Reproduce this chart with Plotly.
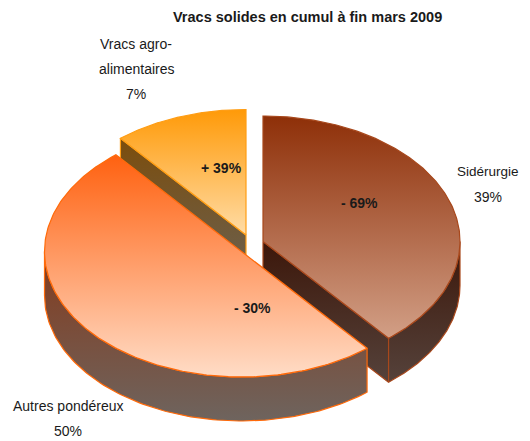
import numpy as np
import plotly.graph_objects as go

# --- data ---
categories = ["Sidérurgie", "Autres pondéreux", "Vracs agro-alimentaires"]
slice_shares = [39, 50, 11]          # drawn angular share of each slice
share_labels = ["39%", "50%", "7%"]  # printed shares
change_labels = ["- 69%", "- 30%", "+ 39%"]
title_text = "Vracs solides en cumul à fin mars 2009"

# --- geometry / style (axes are set up in pixel units of the page) ---
W, H = 530, 441
RX, RY, DEPTH = 197, 125.5, 44
centers = [(263, 241.5), (241.5, 251.5), (246, 235)]
top_grads = [("#8e2f08", "#d29f86"), ("#ff6110", "#ffdcc6"), ("#ff9a08", "#ffdca6")]
wall_grads = [("#3c170a", "#55423b"), ("#843a1c", "#6e645e"), ("#7c4d0c", "#6a6152")]
edges = ["#a8481c", "#ff6a0a", "#ff9d14"]
FONT = "Liberation Sans Narrow, Arial Narrow, Liberation Sans, sans-serif"


def pt(c, theta, dz=0.0):
    return c[0] + RX * np.sin(theta), c[1] - RY * np.cos(theta) + dz


def poly(x, y, grad, edge, width=1.2):
    return go.Scatter(
        x=list(x), y=list(y), mode="lines", fill="toself",
        line=dict(color=edge, width=width),
        # plotly's vertical gradient runs bottom-to-top
        fillgradient=dict(type="vertical", colorscale=[[0, grad[1]], [1, grad[0]]]),
        hoverinfo="skip", showlegend=False,
    )


cum = np.cumsum([0] + slice_shares) / sum(slice_shares) * 2 * np.pi
angles = [(cum[i], cum[i + 1]) for i in range(len(slice_shares))]

fig = go.Figure()
# painter's order: vracs (2), sidérurgie (0), autres (1)
for i in [2, 0, 1]:
    c = centers[i]
    a0, a1 = angles[i]
    # radial cut faces seen from the front
    if i == 2:
        xa, ya = pt(c, a0)
        fig.add_trace(poly([xa, c[0], c[0], xa, xa],
                           [ya, c[1], c[1] + DEPTH, ya + DEPTH, ya],
                           wall_grads[i], edges[i]))
    if i == 0:
        xa, ya = pt(c, a1)
        fig.add_trace(poly([c[0], xa, xa, c[0], c[0]],
                           [c[1], ya, ya + DEPTH, c[1] + DEPTH, c[1]],
                           wall_grads[i], edges[i]))
    # outer rim, front half only
    lo, hi = max(a0, np.pi / 2), min(a1, 3 * np.pi / 2)
    if lo < hi:
        t = np.linspace(lo, hi, 120)
        x1, y1 = pt(c, t)
        x2, y2 = pt(c, t[::-1], DEPTH)
        fig.add_trace(poly(np.r_[x1, x2, x1[0]], np.r_[y1, y2, y1[0]], wall_grads[i], edges[i]))
    # top face
    t = np.linspace(a0, a1, 200)
    x, y = pt(c, t)
    fig.add_trace(poly(np.r_[c[0], x, c[0]], np.r_[c[1], y, c[1]], top_grads[i], edges[i]))


def note(x, y, text, bold=False, size=14):
    fig.add_annotation(x=x, y=y, text=f"<b>{text}</b>" if bold else text, showarrow=False,
                       xanchor="center", yanchor="middle", xref="x", yref="y",
                       font=dict(family=FONT, size=size, color="#1a1a1a"))


note(307, 17, title_text, bold=True, size=14.5)
note(136, 44, "Vracs agro-")
note(136, 69, "alimentaires")
note(136, 94, share_labels[2])
note(488, 171, categories[0], size=13.5)
note(488, 197, share_labels[0])
note(68, 406, categories[1])
note(68, 431, share_labels[1])
note(359, 203, change_labels[0], bold=True)
note(252, 308, change_labels[1], bold=True)
note(221, 168, change_labels[2], bold=True)

fig.update_xaxes(range=[0, W], visible=False, fixedrange=True)
fig.update_yaxes(range=[H, 0], visible=False, fixedrange=True)
fig.update_layout(width=W, height=H, margin=dict(l=0, r=0, t=0, b=0),
                  paper_bgcolor="white", plot_bgcolor="white", showlegend=False)
fig.write_html("out.html", config=dict(displayModeBar=False),
               post_script="document.body.style.margin='0';document.body.style.overflow='hidden';")
